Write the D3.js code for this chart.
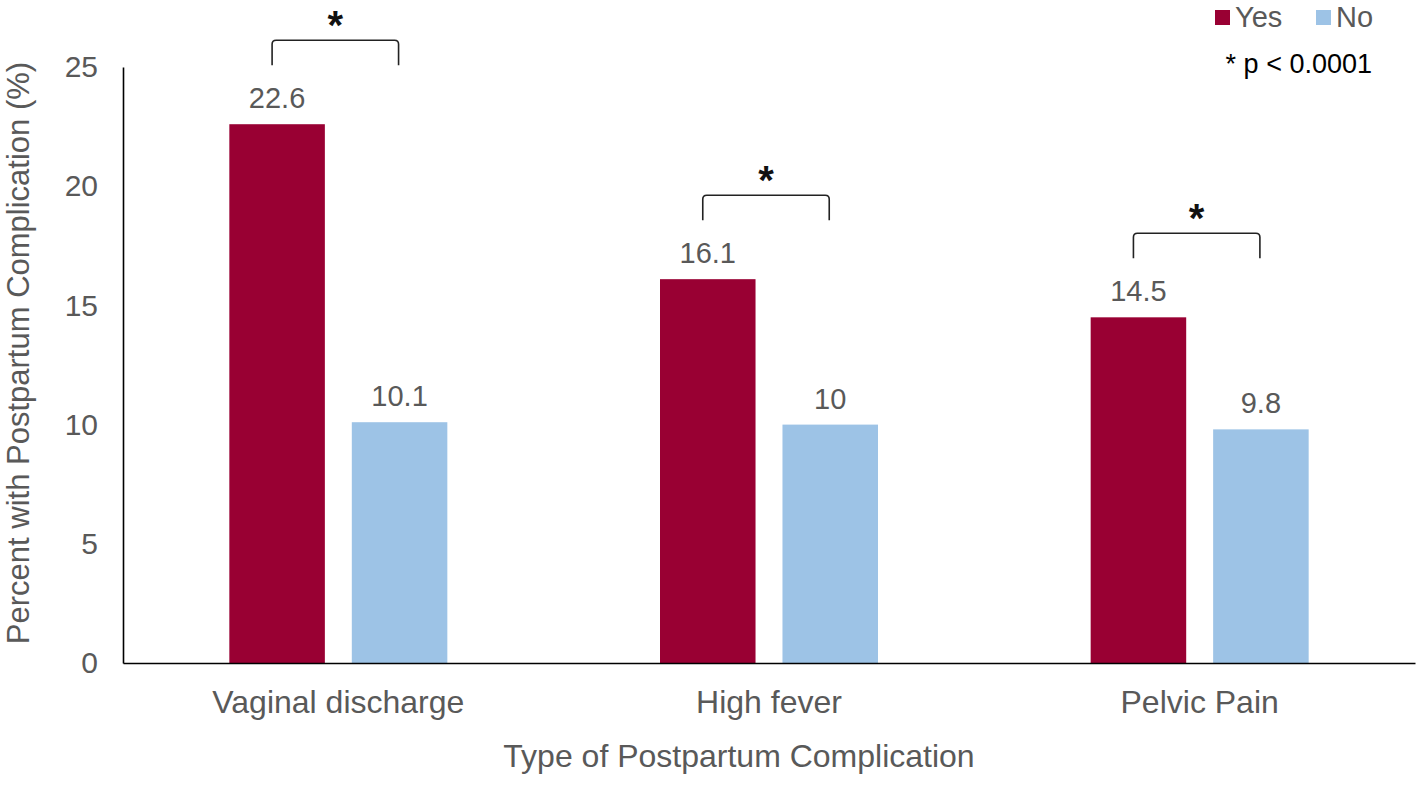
<!DOCTYPE html>
<html>
<head>
<meta charset="utf-8">
<script src="https://cdn.jsdelivr.net/npm/d3@7"></script>
<style>
  html, body { margin: 0; padding: 0; background: #fff; }
  svg { display: block; font-family: "Liberation Sans", Arial, sans-serif; }
</style>
</head>
<body>
<svg id="chart" width="1418" height="786"></svg>
<script>
const categories = ["Vaginal discharge", "High fever", "Pelvic Pain"];
const seriesNames = ["Yes", "No"];
const yesValues = [22.6, 16.1, 14.5];
const noValues = [10.1, 10, 9.8];
const yTicks = [0, 5, 10, 15, 20, 25];
const significance = ["*", "*", "*"];
const noteText = "* p < 0.0001";
const xTitle = "Type of Postpartum Complication";
const yTitle = "Percent with Postpartum Complication (%)";

(function () {
const colors = { Yes: "#990033", No: "#9DC3E6" };
const textGray = "#595959";

const svg = d3.select("#chart");
const plotLeft = 123, plotRight = 1415, plotTop = 67, plotBottom = 663;

const x0 = d3.scaleBand().domain(categories).range([plotLeft, plotRight])
  .paddingInner(0.4938).paddingOuter(0.2469);
const x1 = d3.scaleBand().domain(seriesNames).range([0, x0.bandwidth()])
  .paddingInner(0.22).paddingOuter(0);
const y = d3.scaleLinear().domain([0, 25]).range([plotBottom, plotTop]);

const rows = categories.map((c, i) => ({ cat: c, Yes: yesValues[i], No: noValues[i], sig: significance[i] }));

const g = svg.append("g");
const groups = g.selectAll("g.grp").data(rows).join("g")
  .attr("class", "grp")
  .attr("transform", d => `translate(${x0(d.cat)},0)`);
groups.selectAll("rect").data(d => seriesNames.map(k => ({ key: k, value: d[k] }))).join("rect")
  .attr("x", d => x1(d.key))
  .attr("width", x1.bandwidth())
  .attr("y", d => y(d.value))
  .attr("height", d => y(0) - y(d.value))
  .attr("fill", d => colors[d.key]);
groups.selectAll("text.val").data(d => seriesNames.map(k => ({ key: k, value: d[k] }))).join("text")
  .attr("class", "val")
  .attr("x", d => x1(d.key) + x1.bandwidth() / 2)
  .attr("y", d => y(d.value) - 16)
  .attr("text-anchor", "middle")
  .attr("font-size", 29)
  .attr("fill", textGray)
  .text(d => d3.format("~g")(d.value));

groups.each(function (d) {
  const gg = d3.select(this);
  const xl = x1("Yes") + x1.bandwidth() / 2 - 5;
  const xr = x1("No") + x1.bandwidth() / 2 - 1;
  const yt = y(d.Yes) - 84;
  const yb = yt + 25;
  const r = 4;
  gg.append("path")
    .attr("d", `M${xl},${yb} L${xl},${yt + r} Q${xl},${yt} ${xl + r},${yt} L${xr - r},${yt} Q${xr},${yt} ${xr},${yt + r} L${xr},${yb}`)
    .attr("fill", "none").attr("stroke", "#222").attr("stroke-width", 1.6);
  gg.append("text")
    .attr("x", (xl + xr) / 2)
    .attr("y", yt - 24 + 0.575 * 40)
    .attr("text-anchor", "middle")
    .attr("font-size", 40)
    .attr("font-weight", "bold")
    .attr("fill", "#111")
    .text(d.sig);
});

const yAxis = d3.axisLeft(y).tickValues(yTicks).tickSize(0).tickPadding(25);
const ya = svg.append("g").attr("transform", `translate(${plotLeft},0)`).call(yAxis);
ya.select(".domain").attr("stroke", "#000").attr("stroke-width", 1.6);
ya.selectAll("text").attr("font-size", 30).attr("fill", textGray)
  .attr("font-family", "Liberation Sans, Arial, sans-serif");

const xAxis = d3.axisBottom(x0).tickSize(0).tickPadding(0);
const xa = svg.append("g").attr("transform", `translate(0,${plotBottom})`).call(xAxis);
xa.select(".domain").attr("stroke", "#000").attr("stroke-width", 1.6);
xa.selectAll("text").attr("font-size", 32).attr("fill", textGray)
  .attr("font-family", "Liberation Sans, Arial, sans-serif")
  .attr("dy", null).attr("y", 50);

svg.append("text").attr("x", 739).attr("y", 767).attr("text-anchor", "middle")
  .attr("font-size", 32).attr("fill", textGray).text(xTitle);
svg.append("text").attr("transform", "translate(28.5,353) rotate(-90)")
  .attr("text-anchor", "middle").attr("font-size", 31).attr("fill", textGray).text(yTitle);

const legendX = [1215, 1316];
seriesNames.forEach((k, i) => {
  svg.append("rect").attr("x", legendX[i]).attr("y", 10).attr("width", 15).attr("height", 15)
    .attr("fill", colors[k]);
  svg.append("text").attr("x", legendX[i] + 20).attr("y", 26.5)
    .attr("font-size", 29).attr("fill", textGray).text(k);
});
svg.append("text").attr("x", 1372).attr("y", 73).attr("text-anchor", "end")
  .attr("font-size", 27).attr("fill", "#000").text(noteText);
})();
</script>
</body>
</html>
